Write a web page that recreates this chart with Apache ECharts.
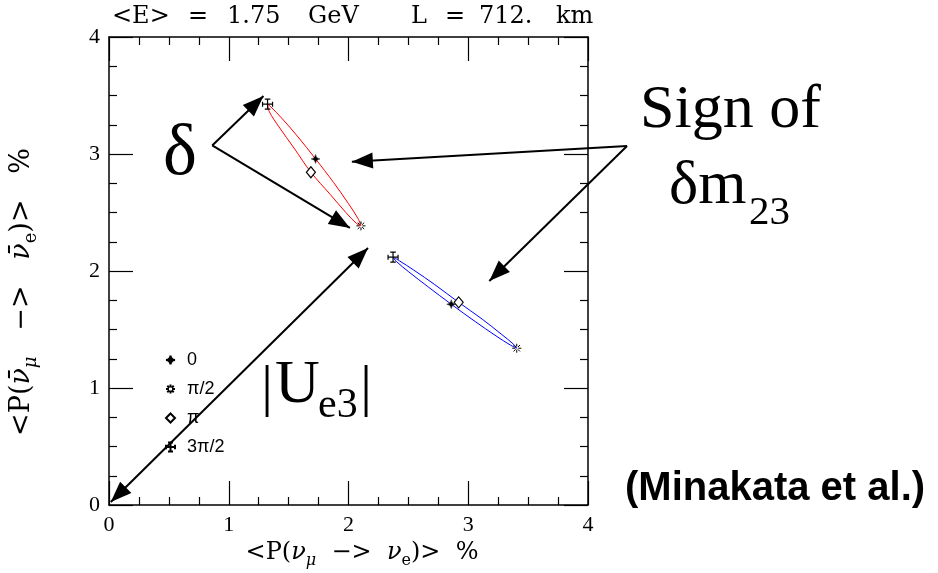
<!DOCTYPE html>
<html><head><meta charset="utf-8">
<script src="https://cdn.jsdelivr.net/npm/echarts@6/dist/echarts.min.js"></script>
<style>html,body{margin:0;padding:0;background:#fff}#c{width:938px;height:573px}</style>
</head><body><div id="c"></div>
<script>
// ---------------- data ----------------
const xTickValues = [0, 1, 2, 3, 4];
const yTickValues = [0, 1, 2, 3, 4];
const phaseLabels = ['0', 'π/2', 'π', '3π/2'];
// marker positions for delta = 0, pi/2, pi, 3pi/2
const redMarkerX = [1.725, 2.104, 1.686, 1.324];
const redMarkerY = [2.958, 2.386, 2.844, 3.426];
const blueMarkerX = [2.858, 3.405, 2.920, 2.372];
const blueMarkerY = [1.716, 1.340, 1.732, 2.118];
// closed curves (start/end at the upper tip)
const redCurveX = [1.324, 1.350, 1.440, 1.572, 1.725, 1.875, 1.999, 2.080, 2.104, 2.068, 1.978, 1.847, 1.686, 1.545, 1.420, 1.339, 1.324];
const redCurveY = [3.426, 3.404, 3.309, 3.154, 2.958, 2.757, 2.577, 2.447, 2.386, 2.405, 2.500, 2.655, 2.844, 3.051, 3.231, 3.361, 3.426];
const blueCurveX = [2.372, 2.400, 2.503, 2.663, 2.858, 3.058, 3.232, 3.355, 3.405, 3.378, 3.275, 3.116, 2.920, 2.720, 2.546, 2.424, 2.372];
const blueCurveY = [2.118, 2.081, 1.993, 1.866, 1.716, 1.568, 1.445, 1.365, 1.340, 1.374, 1.461, 1.589, 1.732, 1.884, 2.007, 2.088, 2.118];

// ---------------- styling / layout ----------------
const serif = "'Liberation Serif','Times New Roman',serif";
const serifWide = "'DejaVu Serif',serif";
const sans = "'Liberation Sans',Arial,sans-serif";
const symbolPaths = [
  'path://M0,-5Q0.45,-0.45 5,0Q0.45,0.45 0,5Q-0.45,0.45 -5,0Q-0.45,-0.45 0,-5Z',
  'path://M0,-5L0,-1.7M0,1.7L0,5M-5,0L-1.7,0M1.7,0L5,0M-3.6,-3.6L-1.3,-1.3M1.3,1.3L3.6,3.6M3.6,-3.6L1.3,-1.3M-1.3,1.3L-3.6,3.6',
  'diamond',
  'path://M0,-5L0,5M-5,0L5,0M-2.8,-5L2.8,-5M-2.8,5L2.8,5M-5,-2.5L-5,2.5M5,-2.5L5,2.5'
];
const symbolFill = ['#000', 'rgba(0,0,0,0)', '#fff', 'rgba(0,0,0,0)'];
const symbolBorder = [0.4, 1, 1.2, 1.2];
const symbolSizes = [9, 9, [9, 11], 10];

function zip(xs, ys) { return xs.map((x, i) => [x, ys[i]]); }

function makeAxis(dim, position, showLabels, ticks) {
  return {
    type: 'value', position: position,
    min: ticks[0], max: ticks[ticks.length - 1], interval: 1,
    axisLine: { onZero: false, lineStyle: { color: '#000', width: 1.5 } },
    axisTick: { inside: true, length: 24, lineStyle: { color: '#000', width: 1.2 } },
    minorTick: { show: true, splitNumber: 4, length: 8, lineStyle: { color: '#000', width: 1.2 } },
    splitLine: { show: false },
    axisLabel: {
      show: showLabels, color: '#000', fontFamily: serif, fontSize: 22,
      margin: 9
    }
  };
}

const chart = echarts.init(document.getElementById('c'), null, { renderer: 'canvas' });
const option = {
  animation: false,
  backgroundColor: '#fff',
  grid: { left: 109, top: 37, width: 479, height: 468 },
  xAxis: [makeAxis('x', 'bottom', true, xTickValues), makeAxis('x', 'top', false, xTickValues)],
  yAxis: [makeAxis('y', 'left', true, yTickValues), makeAxis('y', 'right', false, yTickValues)],
  legend: {
    data: phaseLabels, orient: 'vertical', left: 165, top: 351,
    itemWidth: 9, itemHeight: 9, itemGap: 11, selectedMode: false, padding: 0,
    textStyle: { fontFamily: sans, fontSize: 18, lineHeight: 18, color: '#000', padding: [0, 0, 0, 7] }
  },
  series: [
    { type: 'line', data: zip(redCurveX, redCurveY), smooth: 0.35, symbol: 'none', silent: true,
      lineStyle: { color: '#ff0000', width: 1 }, z: 2 },
    { type: 'line', data: zip(blueCurveX, blueCurveY), smooth: 0.35, symbol: 'none', silent: true,
      lineStyle: { color: '#0000ff', width: 1 }, z: 2 }
  ].concat(phaseLabels.map((name, i) => ({
    type: 'scatter', name: name,
    data: [[redMarkerX[i], redMarkerY[i]], [blueMarkerX[i], blueMarkerY[i]]],
    symbol: symbolPaths[i], symbolSize: symbolSizes[i], symbolKeepAspect: true,
    itemStyle: { color: symbolFill[i], borderColor: '#000', borderWidth: symbolBorder[i], opacity: 1 },
    z: 5
  })))
};
chart.setOption(option);

// ---------------- annotations (anchored in data coordinates) ----------------
const arrowSegments = [
  { from: [0.862, 3.073], to: [1.290, 3.495], heads: 1 },
  { from: [0.862, 3.073], to: [2.012, 2.368], heads: 1 },
  { from: [4.326, 3.068], to: [2.028, 2.934], heads: 1 },
  { from: [4.326, 3.068], to: [3.176, 1.915], heads: 1 },
  { from: [0.015, 0.025], to: [2.163, 2.197], heads: 2 }
];

function P(p) { return chart.convertToPixel({ gridIndex: 0 }, p); }
const g = [];
function addHead(tip, from) {
  const dx = tip[0] - from[0], dy = tip[1] - from[1], d = Math.hypot(dx, dy);
  const ux = dx / d, uy = dy / d, nx = -uy, ny = ux, L = 21, W = 8;
  g.push({ type: 'polygon', z: 100, shape: { points: [
    [tip[0], tip[1]],
    [tip[0] - ux * L + nx * W, tip[1] - uy * L + ny * W],
    [tip[0] - ux * L - nx * W, tip[1] - uy * L - ny * W]] }, style: { fill: '#000' } });
}
arrowSegments.forEach(a => {
  const f = P(a.from), t = P(a.to);
  g.push({ type: 'line', z: 99, shape: { x1: f[0], y1: f[1], x2: t[0], y2: t[1] },
    style: { stroke: '#000', lineWidth: 2 } });
  addHead(t, f);
  if (a.heads === 2) addHead(f, t);
});

function txt(x, y, text, font, extra) {
  const o = { type: 'text', x: x, y: y, z: 101,
    style: Object.assign({ text: text, font: font, fill: '#000',
      textAlign: 'left', textVerticalAlign: 'middle', align: 'left', verticalAlign: 'middle' }, extra || {}) };
  g.push(o);
  return o;
}
// title
const titleFont = '24px ' + serifWide;
[['<E>', 112], ['=', 188], ['1.75', 227], ['GeV', 308], ['L', 411], ['=', 445], ['712.', 479], ['km', 556]]
  .forEach(t => txt(t[1], 17, t[0], titleFont));

// big labels
txt(163, 155, 'δ', '72px ' + serif);
txt(640, 111, 'Sign of', '62px ' + serif);
txt(669, 187, 'δm', '62px ' + serif);
txt(749, 213, '23', '41px ' + serif);
txt(267, 390, '|', '58px ' + serif, { textAlign: 'center', align: 'center' });
txt(275, 386, 'U', '62px ' + serif);
txt(318, 406, 'e3', '42px ' + serif);
txt(366, 390, '|', '58px ' + serif, { textAlign: 'center', align: 'center' });
txt(625, 489, '(Minakata et al.)', 'bold 40px ' + sans);

// axis titles
const axRichX = {
  nu: { fontFamily: serifWide, fontStyle: 'italic', fontSize: 24, lineHeight: 32 },
  sub: { fontFamily: serifWide, fontStyle: 'italic', fontSize: 16, lineHeight: 15, verticalAlign: 'bottom' },
  sube: { fontFamily: serifWide, fontSize: 16, lineHeight: 15, verticalAlign: 'bottom' }
};
const axRichY = {
  nu: { fontFamily: serifWide, fontStyle: 'italic', fontSize: 27, lineHeight: 36 },
  sub: { fontFamily: serifWide, fontStyle: 'italic', fontSize: 18, lineHeight: 16, verticalAlign: 'bottom' },
  sube: { fontFamily: serifWide, fontSize: 18, lineHeight: 16, verticalAlign: 'bottom' }
};
txt(362, 553, '<P({nu|ν}{sub|μ}  −>  {nu|ν}{sube|e})>  %', '24px ' + serifWide,
  { textAlign: 'center', align: 'center', rich: axRichX, lineHeight: 32 });
const yt = txt(22, 292, '<P({nu|ν\u0304}{sub|μ}   −>   {nu|ν\u0304}{sube|e})>   %', '27px ' + serifWide,
  { textAlign: 'center', align: 'center', rich: axRichY, lineHeight: 36 });
yt.rotation = Math.PI / 2;

chart.setOption({ graphic: g });
</script></body></html>
